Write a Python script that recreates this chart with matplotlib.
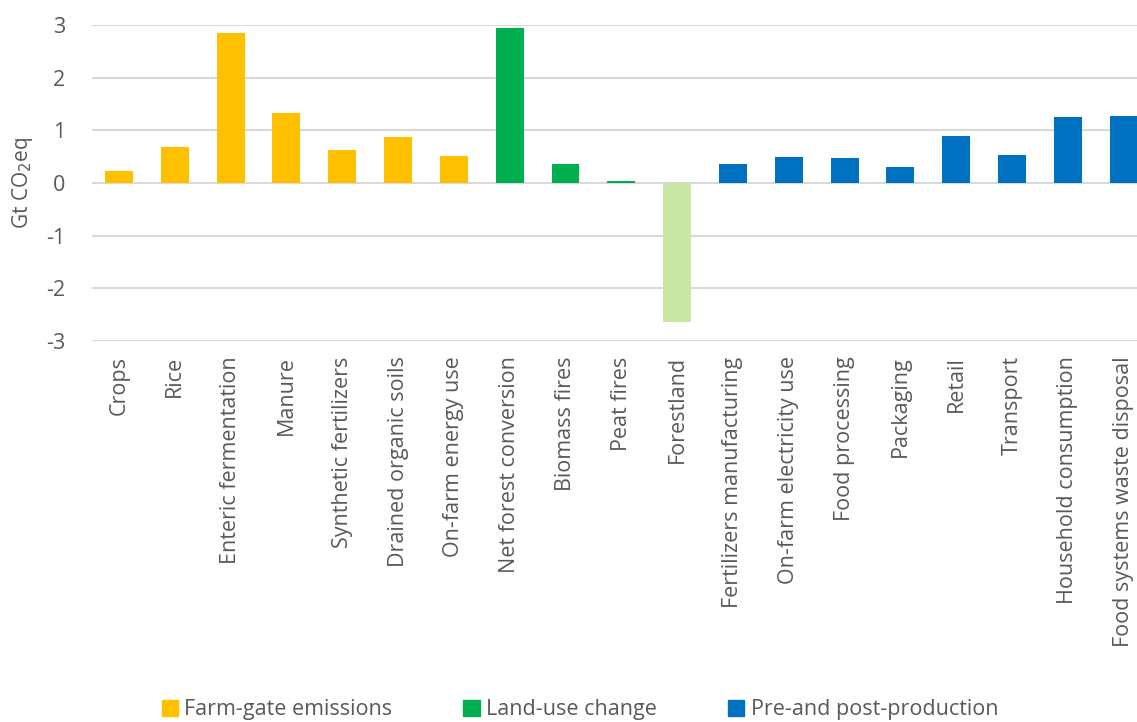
import matplotlib.pyplot as plt
from matplotlib.patches import Patch

plt.rcParams['font.family'] = ['Open Sans', 'DejaVu Sans']
plt.rcParams['axes.unicode_minus'] = False

categories = ["Crops", "Rice", "Enteric fermentation", "Manure", "Synthetic fertilizers",
              "Drained organic soils", "On-farm energy use", "Net forest conversion",
              "Biomass fires", "Peat fires", "Forestland", "Fertilizers manufacturing",
              "On-farm electricity use", "Food processing", "Packaging", "Retail",
              "Transport", "Household consumption", "Food systems waste disposal"]
values = [0.23, 0.68, 2.84, 1.32, 0.62, 0.87, 0.52, 2.94, 0.355, 0.03, -2.64,
          0.37, 0.49, 0.47, 0.30, 0.89, 0.53, 1.25, 1.27]
groups = ["farm"] * 7 + ["land"] * 4 + ["pre"] * 8

group_labels = {"farm": "Farm-gate emissions", "land": "Land-use change",
                "pre": "Pre-and post-production"}
group_colors = {"farm": "#FFC000", "land": "#00B050", "pre": "#0070C0"}
forest_color = "#C9E7A7"

colors = [group_colors[g] for g in groups]
colors[categories.index("Forestland")] = forest_color

fig = plt.figure(figsize=(11.37, 7.22), dpi=100)
ax = fig.add_axes([92 / 1137, 1 - 341 / 722, 1 - 92 / 1137, (341 - 25) / 722])

x = range(len(categories))
ax.bar(x, values, width=0.5, color=colors, zorder=3)

ax.set_ylim(-3, 3)
ax.set_xlim(-0.484, 18.24)
ax.set_yticks(range(-3, 4))
ax.yaxis.grid(True, color="#D9D9D9", linewidth=1.5, zorder=0)
for s in ax.spines.values():
    s.set_visible(False)
ax.tick_params(axis="both", length=0, colors="#595959")
ax.tick_params(axis="x", pad=11, labelsize=15.5)
ax.tick_params(axis="y", pad=19, labelsize=15.5)
ax.set_xticks(list(x))
ax.set_xticklabels(categories, rotation=90, va="top", ha="center")
ax.set_ylabel("Gt CO$_2$eq", color="#595959", fontsize=15, labelpad=8)

handles = [Patch(color=group_colors[k]) for k in ["farm", "land", "pre"]]
fig.legend(handles, [group_labels[k] for k in ["farm", "land", "pre"]],
           loc="center", bbox_to_anchor=(0.51, 0.017), ncol=3, frameon=False,
           fontsize=15.5, labelcolor="#595959", handlelength=0.75, handleheight=0.75,
           handletextpad=0.3, columnspacing=3.3)

fig.savefig("out.png")
